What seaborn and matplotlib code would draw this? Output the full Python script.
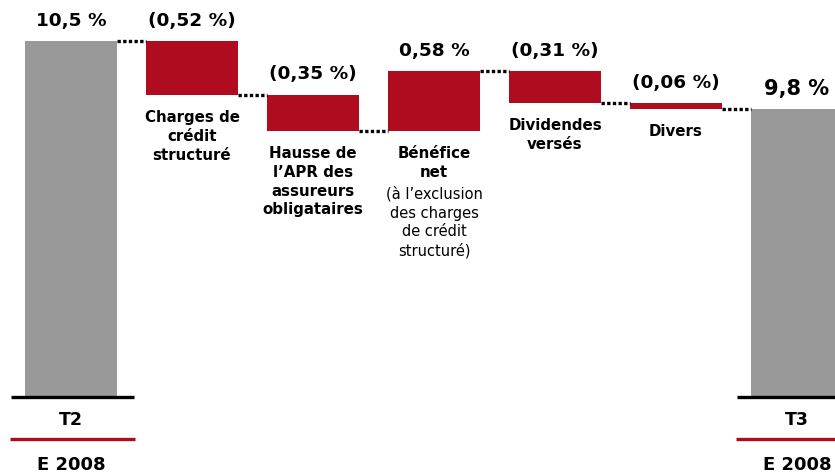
import matplotlib
matplotlib.use("Agg")
import matplotlib.pyplot as plt
import matplotlib.transforms as mtransforms
import seaborn as sns
import pandas as pd
import numpy as np

# ---------------- data ----------------
categories = ["T2", "Charges de crédit structuré",
              "Hausse de l’APR des assureurs obligataires", "Bénéfice net",
              "Dividendes versés", "Divers", "T3"]
changes = [10.5, -0.52, -0.35, 0.58, -0.31, -0.06]   # start value then steps
value_labels = ["10,5 %", "(0,52 %)", "(0,35 %)", "0,58 %", "(0,31 %)", "(0,06 %)", "9,8 %"]
bold_labels = ["", "Charges de\ncrédit\nstructuré",
               "Hausse de\nl’APR des\nassureurs\nobligataires",
               "Bénéfice\nnet", "Dividendes\nversés", "Divers", ""]
note_labels = ["", "", "", "(à l’exclusion\ndes charges\nde crédit\nstructuré)", "", "", ""]
period_labels = ["T2", "T3"]
year_labels = ["E 2008", "E 2008"]

# ---------------- styling ----------------
GRAY = "#999999"
RED = "#AF0C1F"
BASE = 7.04          # visual baseline of the truncated axis
WIDTH = 0.76

sns.set_style("white")
plt.rcParams["font.family"] = ["DejaVu Sans"]
plt.rcParams["text.color"] = "black"

running = np.cumsum(changes)
bottoms = [BASE]
heights = [running[0] - BASE]
for i in range(1, len(changes)):
    bottoms.append(min(running[i - 1], running[i]))
    heights.append(abs(changes[i]))
bottoms.append(BASE)
heights.append(running[-1] - BASE)
tops = [b + h for b, h in zip(bottoms, heights)]

df = pd.DataFrame({"cat": categories, "h": heights})

fig = plt.figure(figsize=(8.35, 4.74), dpi=100)
ax = fig.add_axes([0, 0, 1, 1])
sns.barplot(data=df, x="cat", y="h", order=categories, bottom=bottoms,
            width=WIDTH, color=RED, errorbar=None, ax=ax, linewidth=0)
n = len(categories)
for i, p in enumerate(ax.patches):
    p.set_facecolor(GRAY if i in (0, n - 1) else RED)
    p.set_edgecolor("none")

ax.set_xlim(-0.587, 6.314)
ax.set_ylim(6.296, 10.898)
ax.axis("off")

# dotted connectors
for i in range(n - 1):
    level = running[i] if i < len(running) else running[-1]
    ax.plot([i + WIDTH / 2, i + 1 - WIDTH / 2], [level, level],
            color="black", lw=2.4, linestyle=(0, (1, 0.7)), solid_capstyle="butt")

# value labels
for i, (t, lab) in enumerate(zip(tops, value_labels)):
    fs = 15 if i == n - 1 else 13.3
    ax.annotate(lab, (i, t), xytext=(0, 14.5), textcoords="offset points",
                ha="center", va="center", fontsize=fs, fontweight="bold",
                color="black")

# category labels
for i, (b, bl, nl) in enumerate(zip(bottoms, bold_labels, note_labels)):
    if not bl:
        continue
    ax.annotate(bl, (i, b), xytext=(0, -11), textcoords="offset points",
                ha="center", va="top", fontsize=10.8, fontweight="bold",
                linespacing=1.32, color="black")
    if nl:
        nlines = bl.count("\n") + 1
        ax.annotate(nl, (i, b), xytext=(0, -13 - nlines * 13.6),
                    textcoords="offset points", ha="center", va="top",
                    fontsize=10.5, linespacing=1.3, color="black")

# bottom period markers
trans = mtransforms.blended_transform_factory(ax.transData, ax.transAxes)
for idx, pl, yl in zip([0, n - 1], period_labels, year_labels):
    ax.plot([idx - 0.5, idx + 0.52], [BASE, BASE], color="black", lw=2.4,
            solid_capstyle="butt")
    ax.text(idx, 0.114, pl, transform=trans, ha="center", va="center",
            fontsize=12.5, fontweight="bold", color="black")
    ax.plot([idx - 0.505, idx + 0.53], [0.074, 0.074], transform=trans,
            color=RED, lw=2.4, solid_capstyle="butt")
    ax.text(idx, 0.019, yl, transform=trans, ha="center", va="center",
            fontsize=13, fontweight="bold", color="black")

fig.savefig("out.png", dpi=100)
